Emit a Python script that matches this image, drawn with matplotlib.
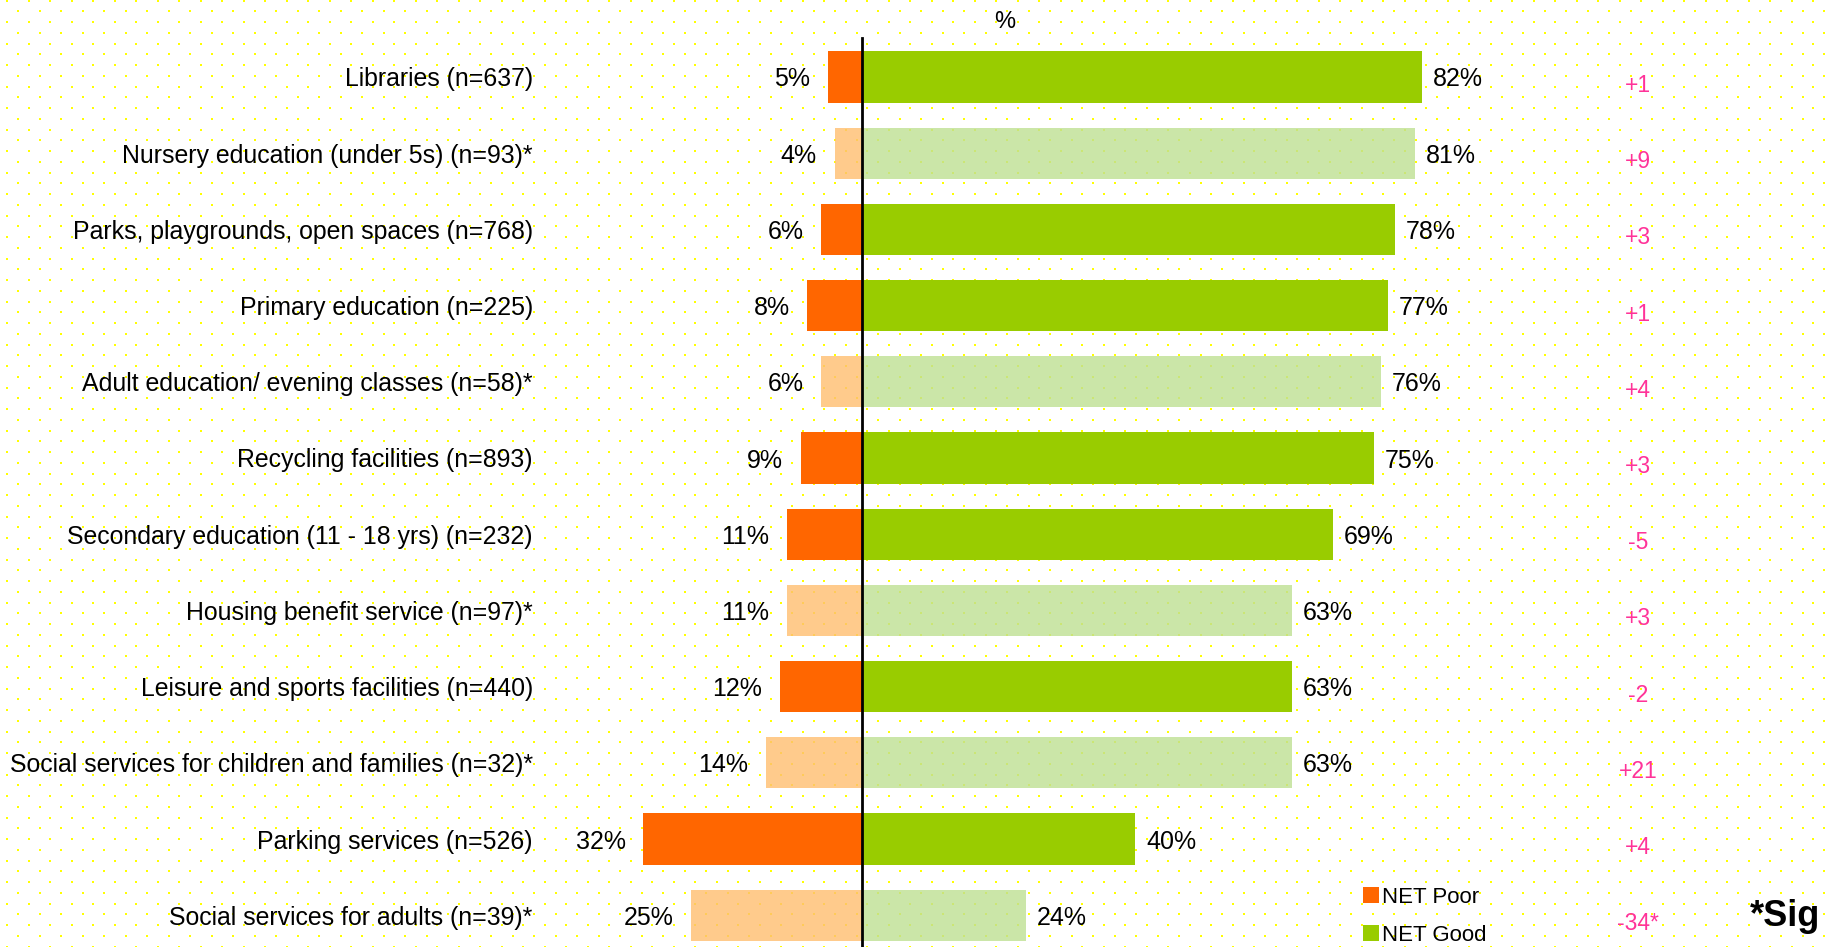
import numpy as np
import matplotlib.pyplot as plt

plt.rcParams['font.family'] = ['Liberation Sans', 'DejaVu Sans']

# data
categories = [
    "Libraries (n=637)",
    "Nursery education (under 5s) (n=93)*",
    "Parks, playgrounds, open spaces (n=768)",
    "Primary education (n=225)",
    "Adult education/ evening classes (n=58)*",
    "Recycling facilities (n=893)",
    "Secondary education (11 - 18 yrs) (n=232)",
    "Housing benefit service (n=97)*",
    "Leisure and sports facilities (n=440)",
    "Social services for children and families (n=32)*",
    "Parking services (n=526)",
    "Social services for adults (n=39)*",
]
net_poor = [5, 4, 6, 8, 6, 9, 11, 11, 12, 14, 32, 25]
net_good = [82, 81, 78, 77, 76, 75, 69, 63, 63, 63, 40, 24]
change = ["+1", "+9", "+3", "+1", "+4", "+3", "-5", "+3", "-2", "+21", "+4", "-34*"]
low_base = [c.endswith("*") for c in categories]

W, H = 1833, 947
fig = plt.figure(figsize=(W / 100, H / 100), dpi=100)

# dotted background
bg = fig.add_axes([0, 0, 1, 1], zorder=0)
bg.set_xlim(0, W)
bg.set_ylim(H, 0)
bg.axis("off")
dx, dy = 21.5, 10.75
xs, ys = [], []
for j, y in enumerate(np.arange(0.5, H, dy)):
    x0 = 7.3 if j % 2 == 0 else 18.1
    row = np.arange(x0, W, dx)
    xs.extend(row)
    ys.extend([y] * len(row))
bg.scatter(xs, ys, s=4.2, marker="s", color="#FFFF00", linewidths=0)

# main axes, zero line at 862 px, 6.83 px per %
ax = fig.add_axes([0, 0, 1, 1], zorder=1)
ax.patch.set_alpha(0)
px = 6.83
x0px = 862
ax.set_xlim(-x0px / px, (W - x0px) / px)
row_h = 76.2
top = 77
ax.set_ylim((H - top) / row_h, -top / row_h)
ax.axis("off")

y = np.arange(len(categories))
poor_col = ["#FFBF70" if lb else "#FF6600" for lb in low_base]
good_col = ["#BFE092" if lb else "#99CC00" for lb in low_base]
alphas = [0.8 if lb else 1.0 for lb in low_base]

for i in range(len(categories)):
    ax.barh(y[i], -net_poor[i], height=0.67, color=poor_col[i], alpha=alphas[i], linewidth=0)
    ax.barh(y[i], net_good[i], height=0.67, color=good_col[i], alpha=alphas[i], linewidth=0)
    ax.text(-net_poor[i] - 2.6, y[i], f"{net_poor[i]}%", ha="right", va="center_baseline", fontsize=18)
    ax.text(net_good[i] + 1.6, y[i], f"{net_good[i]}%", ha="left", va="center_baseline", fontsize=18)
    ax.text(-48.2, y[i], categories[i], ha="right", va="center_baseline", fontsize=17.9)
    ax.text(113.6, y[i] + 0.08, change[i], ha="center", va="center_baseline", fontsize=16.5, color="#FF3399")

ax.plot([0, 0], [-0.51, (H - top) / row_h], color="black", linewidth=2)

fig.text(1005 / W, 1 - 20 / H, "%", ha="center", va="center_baseline", fontsize=17)

# legend
leg_x = 1365
for k, (lab, col) in enumerate([("NET Poor", "#FF6600"), ("NET Good", "#99CC00")]):
    yy = 895 + k * 38
    bg.scatter([leg_x + 6], [yy], s=120, marker="s", color=col, linewidths=0, zorder=3)
    bg.text(leg_x + 17, yy, lab, ha="left", va="center_baseline", fontsize=16)

fig.text(1750 / W, 1 - 926 / H, "*Sig", ha="left", va="baseline", fontsize=26, fontweight="bold")

fig.savefig("out.png", dpi=100)
